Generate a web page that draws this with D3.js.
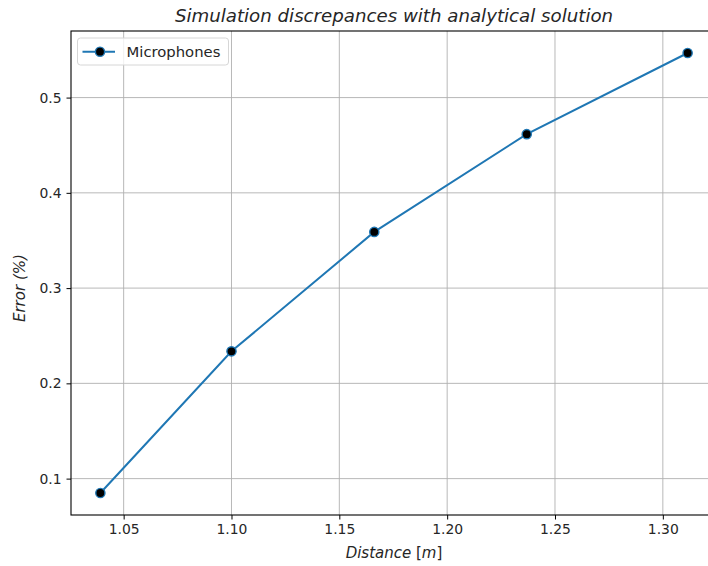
<!DOCTYPE html>
<html>
<head>
<meta charset="utf-8">
<script src="https://cdn.jsdelivr.net/npm/d3@7"></script>
<style>
  body { margin: 0; background: #fff; }
  text { font-family: "DejaVu Sans", sans-serif; fill: #262626; }
</style>
</head>
<body>
<div id="chart"></div>
<script>
// data
let distances = [1.0392, 1.1000, 1.1662, 1.2369, 1.3115];
let errors = [0.0849, 0.2336, 0.3590, 0.4616, 0.5468];
let x_ticks = [1.05, 1.10, 1.15, 1.20, 1.25, 1.30];
let y_ticks = [0.1, 0.2, 0.3, 0.4, 0.5];
let series_name = "Microphones";
let blue = "#1f77b4";

let W = 708, H = 566;
let margin = {top: 31, right: -9, bottom: 51, left: 71},
    width = W - margin.left - margin.right,
    height = H - margin.top - margin.bottom;

let svg = d3.select("#chart")
    .append("svg")
    .attr("width", W)
    .attr("height", H);

let g = svg.append("g")
    .attr("transform", "translate(" + margin.left + "," + margin.top + ")");

// matplotlib style 5% margins
let pad = (a) => { let e = d3.extent(a), d = (e[1] - e[0]) * 0.05; return [e[0] - d, e[1] + d]; };

let x_scale = d3.scaleLinear().domain(pad(distances)).range([0, width]);
let y_scale = d3.scaleLinear().domain(pad(errors)).range([height, 0]);

// grid
g.append("g").selectAll("line")
    .data(x_ticks).enter().append("line")
    .attr("x1", d => x_scale(d)).attr("x2", d => x_scale(d))
    .attr("y1", 0).attr("y2", height)
    .style("stroke", "#b0b0b0").style("stroke-width", 0.9);
g.append("g").selectAll("line")
    .data(y_ticks).enter().append("line")
    .attr("x1", 0).attr("x2", width)
    .attr("y1", d => y_scale(d)).attr("y2", d => y_scale(d))
    .style("stroke", "#b0b0b0").style("stroke-width", 0.9);

// axes
let xa = g.append("g")
    .attr("transform", "translate(0," + height + ")")
    .call(d3.axisBottom(x_scale).tickValues(x_ticks).tickFormat(d3.format(".2f")).tickSize(4.5).tickPadding(5));
let ya = g.append("g")
    .call(d3.axisLeft(y_scale).tickValues(y_ticks).tickFormat(d3.format(".1f")).tickSize(4.5).tickPadding(5));
[xa, ya].forEach(a => {
    a.selectAll("text").style("font-size", "13.9px").style("font-family", "DejaVu Sans").attr("fill", "#262626");
    a.selectAll("line").style("stroke", "#000").style("stroke-width", 1);
    a.select(".domain").remove();
});

// frame
g.append("rect")
    .attr("x", 0).attr("y", 0).attr("width", width).attr("height", height)
    .style("fill", "none").style("stroke", "#000").style("stroke-width", 1.1);

// line + markers
let line = d3.line().x((d, i) => x_scale(distances[i])).y(d => y_scale(d));
g.append("path")
    .datum(errors)
    .attr("d", line)
    .style("fill", "none").style("stroke", blue).style("stroke-width", 2);
g.selectAll(".pt")
    .data(errors).enter().append("circle")
    .attr("cx", (d, i) => x_scale(distances[i]))
    .attr("cy", d => y_scale(d))
    .attr("r", 4.6)
    .style("fill", "#000").style("stroke", blue).style("stroke-width", 1.4);

// title and labels
svg.append("text")
    .attr("x", margin.left + width / 2).attr("y", 22)
    .attr("text-anchor", "middle")
    .style("font-size", "18.2px").style("font-style", "italic")
    .text("Simulation discrepances with analytical solution");
let xl = svg.append("text")
    .attr("x", margin.left + width / 2).attr("y", 558)
    .attr("text-anchor", "middle")
    .style("font-size", "15px").style("font-style", "italic");
xl.append("tspan").text("Distance ");
xl.append("tspan").style("font-style", "normal").text("[");
xl.append("tspan").text("m");
xl.append("tspan").style("font-style", "normal").text("]");
svg.append("text")
    .attr("transform", "translate(25," + (margin.top + y_scale(0.3)) + ") rotate(-90)")
    .attr("text-anchor", "middle")
    .style("font-size", "15px").style("font-style", "italic")
    .text("Error (%)");

// legend
let lg = g.append("g").attr("transform", "translate(6.5,7)");
lg.append("rect")
    .attr("width", 151).attr("height", 27).attr("rx", 3)
    .style("fill", "#fff").style("fill-opacity", 0.8)
    .style("stroke", "#d6d6d6").style("stroke-width", 1);
lg.append("line")
    .attr("x1", 5).attr("x2", 37.5).attr("y1", 13.7).attr("y2", 13.7)
    .style("stroke", blue).style("stroke-width", 2);
lg.append("circle")
    .attr("cx", 22.5).attr("cy", 13.7).attr("r", 4.6)
    .style("fill", "#000").style("stroke", blue).style("stroke-width", 1.4);
lg.append("text")
    .attr("x", 49).attr("y", 19)
    .style("font-size", "14.8px")
    .text(series_name);
</script>
</body>
</html>
